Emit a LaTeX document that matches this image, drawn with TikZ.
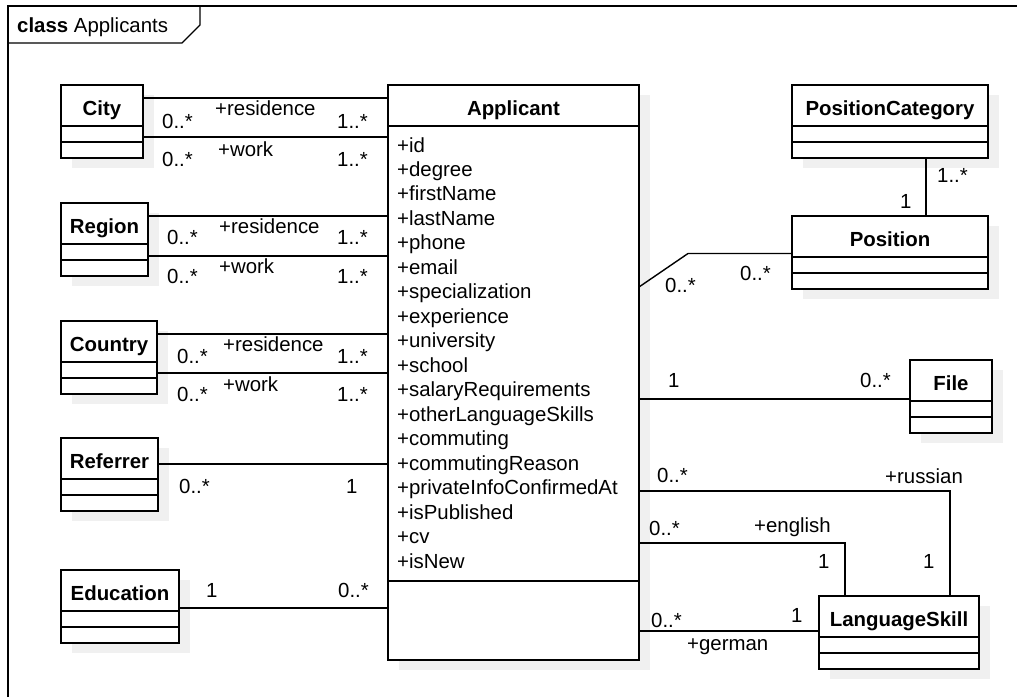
\documentclass[tikz,border=0pt]{standalone}
\usepackage{fontspec}
\setmainfont{Liberation Sans}
\usetikzlibrary{calc,shadows}
\definecolor{shadowgray}{RGB}{240,240,240}

\tikzset{
  classbox/.style={draw, fill=white, line width=1.8pt, minimum height=73pt,
    inner sep=0pt, outer sep=0pt,
    drop shadow={shadow xshift=11pt, shadow yshift=-10pt, fill=shadowgray, opacity=1}},
  divider/.style={line width=1.8pt},
  assoc/.style={line width=1.4pt},
  diagframe/.style={line width=1.4pt},
  lbl/.style={anchor=base west, inner sep=0pt},
  classtitle/.style={anchor=base, inner sep=0pt},
}

% class box: name, x, y (top left), width, title
\newcommand{\umlclass}[5]{%
  \node[classbox, minimum width=#4pt, anchor=north west] (#1) at (#2,#3) {};
  \node[classtitle] (#1-title) at ($(#1.north)+(0,30)$) {\textbf{#5}};
  \draw[divider] ($(#1.north west)+(0,41)$) -- ($(#1.north east)+(0,41)$);
  \draw[divider] ($(#1.north west)+(0,57)$) -- ($(#1.north east)+(0,57)$);
}

\begin{document}
\begin{tikzpicture}[x=1pt, y=-1pt, font=\fontsize{20.4}{24}\selectfont]
    \useasboundingbox (0,0) rectangle (1017,697);

    % frame
    \draw[diagframe] (8,697) -- (8,6) -- (1017,6);
    \draw[diagframe] (8,43) -- (182,43) -- (200,25) -- (200,6);
    \node[lbl] (frametitle) at (17,32) {\textbf{class} Applicants};

    % classes
    \umlclass{city}{61}{85}{82}{City}
    \umlclass{region}{61}{203}{87}{Region}
    \umlclass{country}{61}{321}{96}{Country}
    \umlclass{referrer}{61}{438}{97}{Referrer}
    \umlclass{education}{61}{570}{118}{Education}
    \umlclass{poscat}{792}{85}{196}{PositionCategory}
    \umlclass{position}{792}{216}{196}{Position}
    \umlclass{file}{910}{360}{82}{File}
    \umlclass{langskill}{819}{596}{160}{LanguageSkill}

    \node[classbox, minimum width=251pt, minimum height=575pt, anchor=north west] (app) at (388,85) {};
    \node[classtitle] (app-title) at ($(app.north)+(0,30)$) {\textbf{Applicant}};
    \draw[divider] ($(app.north west)+(0,41)$) -- ($(app.north east)+(0,41)$);
    \draw[divider] ($(app.north west)+(0,496)$) -- ($(app.north east)+(0,496)$);
    \foreach \attr [count=\i from 0] in {id,degree,firstName,lastName,phone,email,
        specialization,experience,university,school,salaryRequirements,
        otherLanguageSkills,commuting,commutingReason,privateInfoConfirmedAt,
        isPublished,cv,isNew}
        \node[lbl] (attr\i) at (397,152+24.47*\i) {+\attr};

    % associations, left side
    \draw[assoc] (city.east |- 0,98) -- (app.west |- 0,98);
    \draw[assoc] (city.east |- 0,137) -- (app.west |- 0,137);
    \draw[assoc] (region.east |- 0,216) -- (app.west |- 0,216);
    \draw[assoc] (region.east |- 0,256) -- (app.west |- 0,256);
    \draw[assoc] (country.east |- 0,334) -- (app.west |- 0,334);
    \draw[assoc] (country.east |- 0,373) -- (app.west |- 0,373);
    \draw[assoc] (referrer.east |- 0,464) -- (app.west |- 0,464);
    \draw[assoc] (education.east |- 0,608) -- (app.west |- 0,608);

    \node[lbl] (cityresA) at (162,128) {0..*};
    \node[lbl] (cityresR) at (215,115) {+residence};
    \node[lbl] (cityresB) at (337,128) {1..*};
    \node[lbl] (citywrkA) at (162,166) {0..*};
    \node[lbl] (citywrkR) at (218,156) {+work};
    \node[lbl] (citywrkB) at (337,166) {1..*};

    \node[lbl] (regresA) at (167,244) {0..*};
    \node[lbl] (regresR) at (219,233) {+residence};
    \node[lbl] (regresB) at (337,244) {1..*};
    \node[lbl] (regwrkA) at (167,283) {0..*};
    \node[lbl] (regwrkR) at (219,273) {+work};
    \node[lbl] (regwrkB) at (337,283) {1..*};

    \node[lbl] (ctrresA) at (177,363) {0..*};
    \node[lbl] (ctrresR) at (223,351) {+residence};
    \node[lbl] (ctrresB) at (337,363) {1..*};
    \node[lbl] (ctrwrkA) at (177,401) {0..*};
    \node[lbl] (ctrwrkR) at (223,391) {+work};
    \node[lbl] (ctrwrkB) at (337,401) {1..*};

    \node[lbl] (refA) at (179,493) {0..*};
    \node[lbl] (refB) at (346,493) {1};
    \node[lbl] (eduA) at (206,597) {1};
    \node[lbl] (eduB) at (338,597) {0..*};

    % associations, right side
    \coordinate (posbend) at (688,253.5);
    \draw[assoc] (app.east |- 0,287) -- (posbend) -- (position.west |- posbend);
    \draw[assoc] (poscat.south -| 926,0) -- (position.north -| 926,0);
    \draw[assoc] (app.east |- 0,399) -- (file.west |- 0,399);
    \draw[assoc] (app.east |- 0,491) -| (langskill.north -| 950,0);
    \draw[assoc] (app.east |- 0,543) -| (langskill.north -| 845,0);
    \draw[assoc] (app.east |- 0,631) -- (langskill.west |- 0,631);

    \node[lbl] (posA) at (665,292) {0..*};
    \node[lbl] (posB) at (740,280) {0..*};
    \node[lbl] (pcA) at (937,182) {1..*};
    \node[lbl] (pcB) at (900,208) {1};
    \node[lbl] (fileA) at (668,387) {1};
    \node[lbl] (fileB) at (860,387) {0..*};
    \node[lbl] (rusA) at (657,482) {0..*};
    \node[lbl] (rusR) at (885,483) {+russian};
    \node[lbl] (rusB) at (923,568) {1};
    \node[lbl] (engA) at (649,535) {0..*};
    \node[lbl] (engR) at (754,532) {+english};
    \node[lbl] (engB) at (818,568) {1};
    \node[lbl] (gerA) at (651,627) {0..*};
    \node[lbl] (gerR) at (687,650) {+german};
    \node[lbl] (gerB) at (791,622) {1};
\end{tikzpicture}
\end{document}
